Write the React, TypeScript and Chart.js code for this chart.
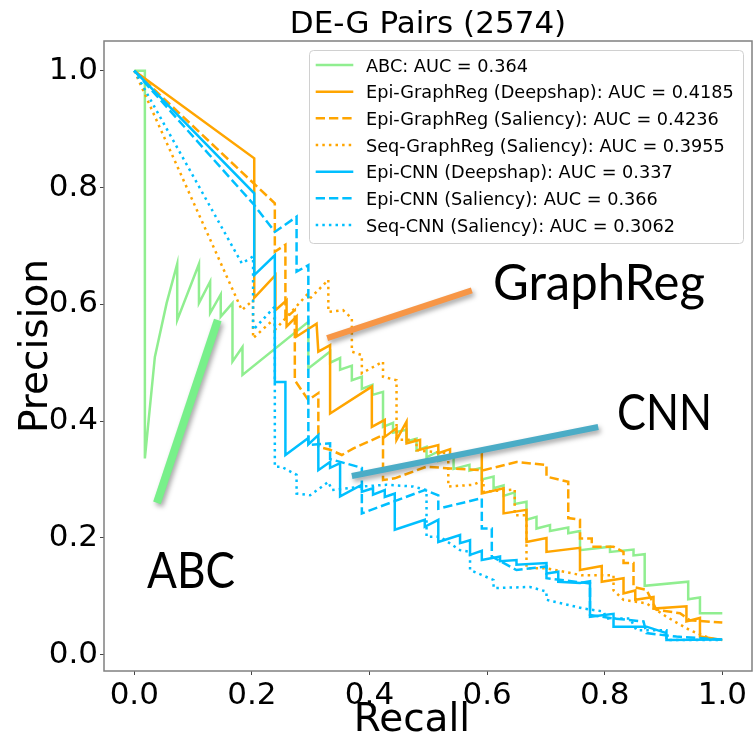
import { useEffect, useRef } from "react";
import { Chart, registerables } from "chart.js";

Chart.register(...registerables);

const TITLE = "DE-G Pairs (2574)";
const X_LABEL = "Recall";
const Y_LABEL = "Precision";
const TICK_VALUES = [0, 0.2, 0.4, 0.6, 0.8, 1.0];

const SERIES_LABELS = [
  "ABC: AUC = 0.364",
  "Epi-GraphReg (Deepshap): AUC = 0.4185",
  "Epi-GraphReg (Saliency): AUC = 0.4236",
  "Seq-GraphReg (Saliency): AUC = 0.3955",
  "Epi-CNN (Deepshap): AUC = 0.337",
  "Epi-CNN (Saliency): AUC = 0.366",
  "Seq-CNN (Saliency): AUC = 0.3062",
];
const SERIES_COLORS = ["#90EE90", "#FFA500", "#FFA500", "#FFA500", "#00BFFF", "#00BFFF", "#00BFFF"];
const SERIES_DASH = [[], [], [9.3, 4], [2.5, 4.1], [], [9.3, 4], [2.5, 4.1]];

// ABC
const abcRecall = [0, 0.018, 0.018, 0.035, 0.055, 0.073, 0.073, 0.110, 0.110, 0.129, 0.129, 0.147, 0.147, 0.167, 0.167, 0.184, 0.184, 0.296, 0.296, 0.333, 0.333, 0.350, 0.350, 0.370, 0.370, 0.387, 0.387, 0.405, 0.405, 0.423, 0.423, 0.440, 0.440, 0.463, 0.463, 0.480, 0.480, 0.497, 0.497, 0.517, 0.517, 0.543, 0.543, 0.570, 0.570, 0.591, 0.591, 0.611, 0.611, 0.628, 0.628, 0.647, 0.647, 0.667, 0.667, 0.684, 0.684, 0.707, 0.707, 0.738, 0.738, 0.758, 0.758, 0.809, 0.809, 0.849, 0.849, 0.868, 0.868, 0.942, 0.942, 0.962, 0.962, 1.0];
const abcPrecision = [1, 1, 0.336, 0.510, 0.602, 0.669, 0.573, 0.669, 0.602, 0.639, 0.585, 0.617, 0.579, 0.602, 0.502, 0.527, 0.479, 0.570, 0.490, 0.519, 0.500, 0.508, 0.488, 0.495, 0.470, 0.476, 0.455, 0.462, 0.445, 0.450, 0.390, 0.397, 0.380, 0.385, 0.365, 0.370, 0.350, 0.356, 0.338, 0.348, 0.332, 0.338, 0.318, 0.325, 0.315, 0.320, 0.300, 0.305, 0.285, 0.290, 0.272, 0.278, 0.258, 0.262, 0.231, 0.236, 0.216, 0.222, 0.212, 0.218, 0.208, 0.212, 0.179, 0.185, 0.176, 0.180, 0.170, 0.172, 0.118, 0.125, 0.095, 0.098, 0.071, 0.071];

// Epi-GraphReg (Deepshap)
const epiGrDeepRecall = [0, 0.204, 0.204, 0.240, 0.240, 0.259, 0.259, 0.276, 0.276, 0.310, 0.313, 0.333, 0.333, 0.404, 0.404, 0.426, 0.426, 0.446, 0.446, 0.463, 0.463, 0.486, 0.486, 0.517, 0.517, 0.537, 0.537, 0.591, 0.591, 0.628, 0.628, 0.667, 0.667, 0.701, 0.701, 0.758, 0.758, 0.795, 0.795, 0.832, 0.832, 0.852, 0.852, 0.883, 0.883, 0.939, 0.939, 0.962, 0.962, 1.0];
const epiGrDeepPrecision = [1, 0.850, 0.611, 0.650, 0.590, 0.607, 0.562, 0.579, 0.545, 0.567, 0.519, 0.530, 0.413, 0.459, 0.390, 0.402, 0.373, 0.388, 0.368, 0.399, 0.362, 0.368, 0.351, 0.359, 0.345, 0.352, 0.339, 0.351, 0.276, 0.285, 0.242, 0.248, 0.193, 0.200, 0.176, 0.183, 0.145, 0.152, 0.125, 0.131, 0.105, 0.110, 0.094, 0.099, 0.079, 0.083, 0.057, 0.063, 0.031, 0.025];

// Epi-GraphReg (Saliency)
const epiGrSalRecall = [0, 0.239, 0.239, 0.257, 0.257, 0.273, 0.273, 0.296, 0.313, 0.313, 0.333, 0.353, 0.372, 0.423, 0.423, 0.443, 0.497, 0.537, 0.594, 0.650, 0.701, 0.701, 0.738, 0.738, 0.758, 0.758, 0.778, 0.778, 0.815, 0.832, 0.832, 0.849, 0.849, 0.871, 0.888, 0.928, 0.945, 1.0];
const epiGrSalPrecision = [1, 0.773, 0.690, 0.702, 0.576, 0.590, 0.470, 0.436, 0.448, 0.356, 0.351, 0.342, 0.353, 0.376, 0.299, 0.302, 0.322, 0.319, 0.316, 0.330, 0.325, 0.305, 0.296, 0.234, 0.231, 0.199, 0.199, 0.185, 0.185, 0.176, 0.157, 0.157, 0.116, 0.111, 0.077, 0.071, 0.059, 0.055];

// Seq-GraphReg (Saliency)
const seqGrSalRecall = [0, 0.183, 0.202, 0.202, 0.239, 0.239, 0.296, 0.296, 0.330, 0.330, 0.355, 0.370, 0.370, 0.387, 0.387, 0.423, 0.423, 0.446, 0.446, 0.480, 0.480, 0.534, 0.534, 0.577, 0.594, 0.594, 0.647, 0.647, 0.667, 0.667, 0.701, 0.761, 0.815, 0.815, 0.832, 0.871, 0.905, 0.945, 0.979, 1.0];
const seqGrSalPrecision = [1, 0.590, 0.607, 0.542, 0.576, 0.556, 0.619, 0.607, 0.642, 0.587, 0.590, 0.576, 0.519, 0.513, 0.482, 0.502, 0.476, 0.470, 0.368, 0.368, 0.350, 0.345, 0.288, 0.291, 0.299, 0.279, 0.283, 0.239, 0.239, 0.148, 0.148, 0.136, 0.136, 0.110, 0.094, 0.088, 0.065, 0.042, 0.028, 0.025];

// Epi-CNN (Deepshap)
const epiCnnDeepRecall = [0, 0.204, 0.204, 0.239, 0.239, 0.257, 0.257, 0.296, 0.296, 0.313, 0.313, 0.333, 0.333, 0.350, 0.350, 0.387, 0.387, 0.406, 0.406, 0.426, 0.426, 0.443, 0.443, 0.494, 0.494, 0.517, 0.517, 0.554, 0.554, 0.571, 0.571, 0.591, 0.591, 0.622, 0.622, 0.650, 0.650, 0.701, 0.701, 0.721, 0.721, 0.758, 0.775, 0.775, 0.815, 0.815, 0.871, 0.905, 0.905, 1.0];
const epiCnnDeepPrecision = [1, 0.790, 0.650, 0.684, 0.467, 0.467, 0.342, 0.371, 0.360, 0.376, 0.316, 0.330, 0.320, 0.328, 0.271, 0.291, 0.279, 0.285, 0.274, 0.282, 0.270, 0.276, 0.214, 0.231, 0.219, 0.231, 0.193, 0.205, 0.191, 0.196, 0.171, 0.178, 0.162, 0.168, 0.160, 0.162, 0.154, 0.157, 0.139, 0.142, 0.125, 0.123, 0.126, 0.065, 0.070, 0.048, 0.048, 0.037, 0.025, 0.026];

// Epi-CNN (Saliency)
const epiCnnSalRecall = [0, 0.204, 0.239, 0.276, 0.276, 0.296, 0.296, 0.333, 0.333, 0.387, 0.387, 0.494, 0.517, 0.517, 0.591, 0.591, 0.608, 0.608, 0.650, 0.701, 0.701, 0.775, 0.775, 0.815, 0.866, 0.871, 0.922, 1.0];
const epiCnnSalPrecision = [1, 0.770, 0.724, 0.750, 0.656, 0.667, 0.359, 0.362, 0.335, 0.320, 0.242, 0.282, 0.273, 0.250, 0.268, 0.216, 0.216, 0.168, 0.145, 0.151, 0.131, 0.122, 0.068, 0.062, 0.057, 0.037, 0.031, 0.026];

// Seq-CNN (Saliency)
const seqCnnSalRecall = [0, 0.183, 0.202, 0.202, 0.239, 0.239, 0.250, 0.276, 0.276, 0.299, 0.330, 0.336, 0.387, 0.429, 0.474, 0.497, 0.497, 0.520, 0.554, 0.571, 0.571, 0.611, 0.611, 0.673, 0.701, 0.701, 0.764, 0.798, 0.803, 0.843, 0.854, 0.905, 0.905, 1.0];
const seqCnnSalPrecision = [1, 0.670, 0.682, 0.556, 0.596, 0.322, 0.322, 0.308, 0.276, 0.273, 0.296, 0.282, 0.288, 0.291, 0.288, 0.282, 0.202, 0.202, 0.179, 0.176, 0.145, 0.128, 0.114, 0.116, 0.108, 0.094, 0.079, 0.074, 0.062, 0.062, 0.042, 0.042, 0.025, 0.025];

const SERIES_RECALL = [abcRecall, epiGrDeepRecall, epiGrSalRecall, seqGrSalRecall, epiCnnDeepRecall, epiCnnSalRecall, seqCnnSalRecall];
const SERIES_PRECISION = [abcPrecision, epiGrDeepPrecision, epiGrSalPrecision, seqGrSalPrecision, epiCnnDeepPrecision, epiCnnSalPrecision, seqCnnSalPrecision];

// Callout annotations (in recall / precision units)
const ANNOT_TEXTS = ["GraphReg", "CNN", "ABC"];
const ANNOT_TEXT_AT = [[0.610, 0.607], [0.821, 0.385], [0.0216, 0.114]];
const ANNOT_TEXT_WIDTH = [212, 95, 88];
const ANNOT_LINES = [[0.328, 0.542, 0.574, 0.624], [0.370, 0.306, 0.789, 0.390], [0.0386, 0.260, 0.142, 0.573]];
const ANNOT_COLORS = ["#F79646", "#4BACC6", "#78F08A"];
const ANNOT_WIDTHS = [6, 6, 8];

const X_MIN = -0.0515, X_MAX = 1.0505;
const Y_MIN = -0.0279, Y_MAX = 1.0509;

const overlay = {
  id: "overlay",
  afterDraw(chart: any) {
    const { ctx, chartArea: a, scales } = chart;
    const xs = scales.x, ys = scales.y;
    ctx.save();
    // frame
    ctx.strokeStyle = "#808080";
    ctx.lineWidth = 1.5;
    ctx.setLineDash([]);
    ctx.strokeRect(a.left, a.top, a.right - a.left, a.bottom - a.top);

    // callout lines
    ANNOT_LINES.forEach((ln, i) => {
      ctx.save();
      ctx.shadowColor = "rgba(0,0,0,0.35)";
      ctx.shadowBlur = 5;
      ctx.shadowOffsetX = 2;
      ctx.shadowOffsetY = 3;
      ctx.strokeStyle = ANNOT_COLORS[i];
      ctx.lineWidth = ANNOT_WIDTHS[i];
      ctx.beginPath();
      ctx.moveTo(xs.getPixelForValue(ln[0]), ys.getPixelForValue(ln[1]));
      ctx.lineTo(xs.getPixelForValue(ln[2]), ys.getPixelForValue(ln[3]));
      ctx.stroke();
      ctx.restore();
    });
    ctx.fillStyle = "#000";
    ctx.font = '50px Lato';
    ctx.textAlign = "left";
    ctx.textBaseline = "alphabetic";
    ANNOT_TEXTS.forEach((t, i) => {
      const w = ctx.measureText(t).width;
      const sx = ANNOT_TEXT_WIDTH[i] / w;
      ctx.save();
      ctx.translate(xs.getPixelForValue(ANNOT_TEXT_AT[i][0]), ys.getPixelForValue(ANNOT_TEXT_AT[i][1]));
      ctx.scale(sx, 1);
      ctx.fillText(t, 0, 0);
      ctx.restore();
    });

    // legend
    const lx = 309.5, ly = 50.5, lw = 434, lh = 193, r = 4;
    ctx.beginPath();
    ctx.moveTo(lx + r, ly);
    ctx.arcTo(lx + lw, ly, lx + lw, ly + lh, r);
    ctx.arcTo(lx + lw, ly + lh, lx, ly + lh, r);
    ctx.arcTo(lx, ly + lh, lx, ly, r);
    ctx.arcTo(lx, ly, lx + lw, ly, r);
    ctx.closePath();
    ctx.fillStyle = "rgba(255,255,255,0.8)";
    ctx.fill();
    ctx.strokeStyle = "#d0d0d0";
    ctx.lineWidth = 1;
    ctx.stroke();
    ctx.font = '17.7px "DejaVu Sans"';
    SERIES_LABELS.forEach((lab, i) => {
      const cy = 65 + i * 26.67;
      ctx.strokeStyle = SERIES_COLORS[i];
      ctx.lineWidth = 2.5;
      ctx.setLineDash(SERIES_DASH[i]);
      ctx.beginPath();
      ctx.moveTo(315.7, cy);
      ctx.lineTo(353.3, cy);
      ctx.stroke();
      ctx.setLineDash([]);
      ctx.fillStyle = "#000";
      ctx.fillText(lab, 366, cy + 6.5);
    });

    // title & axis titles
    const cx = (a.left + a.right) / 2;
    ctx.textAlign = "center";
    ctx.font = '31px "DejaVu Sans"';
    ctx.fillText(TITLE, cx, 33);
    ctx.font = '39px "DejaVu Sans"';
    ctx.fillText(X_LABEL, 412, 731);
    ctx.translate(47, 346);
    ctx.rotate(-Math.PI / 2);
    ctx.fillText(Y_LABEL, 0, 0);
    ctx.restore();
  },
};

export default function App() {
  const ref = useRef<HTMLCanvasElement>(null);
  useEffect(() => {
    const canvas = ref.current;
    if (!canvas) return;
    const datasets = SERIES_LABELS.map((label, i) => {
      const rc = SERIES_RECALL[i], pr = SERIES_PRECISION[i];
      const n = Math.min(rc.length, pr.length);
      const data = [];
      for (let k = 0; k < n; k++) data.push({ x: rc[k], y: pr[k] });
      return {
        label,
        data,
        borderColor: SERIES_COLORS[i],
        backgroundColor: SERIES_COLORS[i],
        borderDash: SERIES_DASH[i],
        borderWidth: 2.5,
        pointRadius: 0,
        tension: 0,
        fill: false,
        order: 20 - i,
      };
    });
    const tickFont = { family: "DejaVu Sans", size: 31 };
    const chart = new Chart(canvas, {
      type: "line",
      data: { datasets },
      options: {
        animation: false,
        responsive: false,
        devicePixelRatio: 1,
        layout: { padding: { top: 41, right: 1, bottom: 0, left: 0 } },
        plugins: { legend: { display: false }, title: { display: false }, tooltip: { enabled: false } },
        scales: {
          x: {
            type: "linear",
            min: X_MIN,
            max: X_MAX,
            afterBuildTicks: (s: any) => { s.ticks = TICK_VALUES.map((v) => ({ value: v })); },
            afterFit: (s: any) => { s.height = 65; },
            ticks: { callback: (v: any) => Number(v).toFixed(1), font: tickFont, color: "#000", padding: 2, maxRotation: 0, autoSkip: false },
            grid: { drawOnChartArea: false, drawTicks: true, tickLength: 4, color: "#444" },
            border: { display: false },
          },
          y: {
            type: "linear",
            min: Y_MIN,
            max: Y_MAX,
            afterBuildTicks: (s: any) => { s.ticks = TICK_VALUES.map((v) => ({ value: v })); },
            afterFit: (s: any) => { s.width = 104; },
            ticks: { callback: (v: any) => Number(v).toFixed(1), font: tickFont, color: "#000", padding: 2, autoSkip: false },
            grid: { drawOnChartArea: false, drawTicks: true, tickLength: 4, color: "#444" },
            border: { display: false },
          },
        },
      } as any,
      plugins: [overlay],
    });
    return () => chart.destroy();
  }, []);
  return (
    <div style={{ position: "fixed", left: 0, top: 0, width: 753, height: 736, background: "#fff" }}>
      <canvas ref={ref} width={753} height={736} style={{ display: "block" }} />
    </div>
  );
}
